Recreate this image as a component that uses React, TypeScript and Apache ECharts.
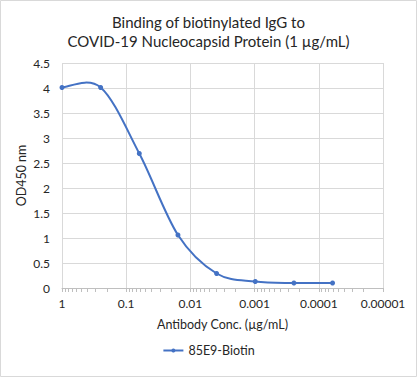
import React, { useEffect, useRef } from "react";
import * as echarts from "echarts";

const concentrations = [1, 0.25, 0.0625, 0.015625, 0.00390625, 0.0009765625, 0.000244140625, 0.00006103515625];
const od450 = [4.01, 4.01, 2.69, 1.06, 0.29, 0.13, 0.1, 0.1];
const seriesName = "85E9-Biotin";
const majorTicks = [1, 0.1, 0.01, 0.001, 0.0001, 0.00001];
const majorLabels = ["1", "0.1", "0.01", "0.001", "0.0001", "0.00001"];
const minorMultipliers = [2, 3, 4, 5, 6, 7, 8, 9];

const FONT = "Lato, 'Open Sans', sans-serif";
const BLUE = "#4472c4";

export default function App() {
  const ref = useRef<HTMLDivElement>(null);
  useEffect(() => {
    if (!ref.current) return;
    const chart = echarts.init(ref.current, null, { renderer: "svg" });
    const tickValues: number[] = [];
    for (let i = 0; i < majorTicks.length; i++) {
      tickValues.push(majorTicks[i]);
      if (i < majorTicks.length - 1) {
        minorMultipliers.forEach((m) => tickValues.push(majorTicks[i + 1] * m));
      }
    }
    const labelFor = (v: number) => {
      const idx = majorTicks.findIndex((t) => Math.abs(Math.log10(t) - Math.log10(v)) < 1e-6);
      return idx >= 0 ? majorLabels[idx] : "";
    };
    const baseX = {
      type: "log",
      logBase: 10,
      inverse: true,
      min: 0.00001,
      max: 1,
      gridIndex: 0,
    };
    chart.setOption({
      animation: false,
      backgroundColor: "#ffffff",
      title: {
        text: "Binding of biotinylated IgG to\nCOVID-19 Nucleocapsid Protein (1 µg/mL)",
        left: "center",
        top: 7,
        textStyle: {
          fontFamily: FONT,
          fontSize: 15,
          fontWeight: "normal",
          color: "#262626",
          lineHeight: 19,
        },
      },
      grid: { left: 62, right: 34, top: 63, bottom: 89 },
      legend: {
        bottom: 15,
        left: "center",
        itemWidth: 20,
        itemHeight: 5,
        itemGap: 4,
        textStyle: { fontFamily: FONT, fontSize: 12.5, color: "#262626" },
        data: [
          {
            name: seriesName,
            lineStyle: { opacity: 1, width: 2, color: BLUE },
          },
        ],
      },
      xAxis: [
        {
          ...baseX,
          position: "bottom",
          name: "Antibody Conc. (µg/mL)",
          nameLocation: "middle",
          nameGap: 30,
          nameTextStyle: { fontFamily: FONT, fontSize: 12.5, color: "#262626" },
          axisLine: { show: true, onZero: false, lineStyle: { color: "#bfbfbf", width: 1 } },
          axisTick: {
            show: true,
            length: 4,
            lineStyle: { color: "#bfbfbf" },
            customValues: tickValues,
          },
          axisLabel: {
            fontFamily: FONT,
            fontSize: 12,
            color: "#262626",
            margin: 9,
            customValues: majorTicks,
            formatter: labelFor,
          },
          splitLine: { show: false },
        },
        {
          ...baseX,
          position: "top",
          axisLine: { show: false },
          axisTick: { show: false, customValues: majorTicks },
          axisLabel: { show: false },
          splitLine: { show: true, lineStyle: { color: "#d9d9d9", width: 1 } },
        },
      ],
      yAxis: {
        type: "value",
        min: 0,
        max: 4.5,
        interval: 0.5,
        name: "OD450 nm",
        nameLocation: "middle",
        nameGap: 34,
        nameMoveOverlap: false,
        nameTextStyle: { fontFamily: FONT, fontSize: 12.5, color: "#262626" },
        axisLine: { show: false },
        axisTick: { show: false },
        axisLabel: { fontFamily: FONT, fontSize: 12, color: "#262626", margin: 12 },
        splitLine: { show: true, lineStyle: { color: "#d9d9d9", width: 1 } },
      },
      series: [
        {
          name: seriesName,
          type: "line",
          xAxisIndex: 0,
          data: concentrations.map((c, i) => [c, od450[i]]),
          symbol: "circle",
          symbolSize: 5,
          z: 3,
          itemStyle: { color: BLUE },
          lineStyle: { color: BLUE, width: 2, opacity: 0 },
        },
        {
          name: "curve",
          type: "custom",
          xAxisIndex: 0,
          z: 2,
          data: concentrations.map((c, i) => [c, od450[i]]),
          renderItem: (params: any, api: any) => {
            if (params.dataIndex !== 0) return null;
            const pts = concentrations.map((c, i) => api.coord([c, od450[i]]));
            const n = pts.length;
            let d = `M${pts[0][0]},${pts[0][1]}`;
            for (let i = 0; i < n - 1; i++) {
              const p0 = pts[Math.max(0, i - 1)];
              const p1 = pts[i];
              const p2 = pts[i + 1];
              const p3 = pts[Math.min(n - 1, i + 2)];
              const c1x = p1[0] + (p2[0] - p0[0]) / 6;
              const c1y = p1[1] + (p2[1] - p0[1]) / 6;
              const c2x = p2[0] - (p3[0] - p1[0]) / 6;
              const c2y = p2[1] - (p3[1] - p1[1]) / 6;
              d += ` C${c1x},${c1y} ${c2x},${c2y} ${p2[0]},${p2[1]}`;
            }
            return {
              type: "path",
              shape: { pathData: d },
              style: { fill: "none", stroke: BLUE, lineWidth: 2 },
              silent: true,
            };
          },
        },
      ],
      graphic: [
        {
          type: "rect",
          shape: { x: 0.5, y: 0.5, width: 416, height: 376 },
          style: { fill: "none", stroke: "#d9d9d9", lineWidth: 1 },
          silent: true,
        },
      ],
    });
    return () => chart.dispose();
  }, []);
  return (
    <div
      ref={ref}
      style={{ position: "fixed", left: 0, top: 0, width: 417, height: 377 }}
    />
  );
}
